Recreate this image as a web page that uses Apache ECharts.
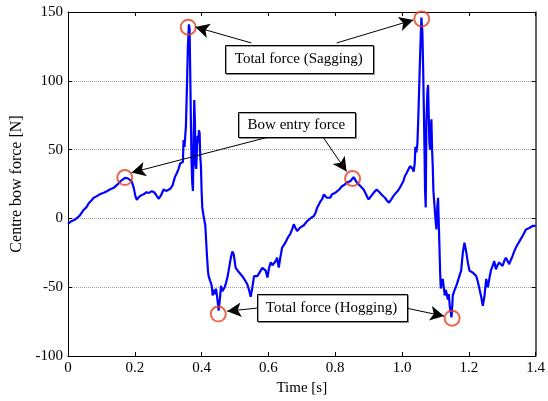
<!DOCTYPE html>
<html>
<head>
<meta charset="utf-8">
<script src="https://cdn.jsdelivr.net/npm/echarts@6/dist/echarts.min.js"></script>
<style>html,body{margin:0;padding:0;background:#fff}#c{width:548px;height:401px}</style>
</head>
<body>
<div id="c"></div>
<script>
// ---- data ----
var timeS = [0.000,0.010,0.020,0.028,0.035,0.040,0.048,0.055,0.062,0.070,0.077,0.085,0.095,0.107,0.115,0.125,0.137,0.145,0.152,0.157,0.165,0.172,0.180,0.188,0.192,0.197,0.202,0.206,0.212,0.220,0.226,0.235,0.243,0.251,0.258,0.264,0.271,0.278,0.286,0.295,0.306,0.313,0.320,0.326,0.331,0.336,0.341,0.344,0.346,0.349,0.351,0.353,0.356,0.359,0.362,0.364,0.366,0.368,0.370,0.372,0.374,0.376,0.378,0.380,0.382,0.384,0.386,0.388,0.390,0.392,0.394,0.396,0.398,0.400,0.402,0.405,0.408,0.411,0.413,0.416,0.419,0.421,0.425,0.428,0.431,0.433,0.436,0.440,0.443,0.447,0.451,0.455,0.458,0.462,0.465,0.469,0.473,0.478,0.483,0.488,0.492,0.496,0.502,0.508,0.515,0.522,0.530,0.537,0.542,0.547,0.552,0.557,0.562,0.567,0.572,0.577,0.582,0.587,0.592,0.597,0.602,0.607,0.612,0.617,0.622,0.626,0.631,0.636,0.641,0.646,0.651,0.656,0.661,0.666,0.671,0.676,0.681,0.686,0.691,0.696,0.701,0.706,0.711,0.716,0.721,0.728,0.736,0.741,0.746,0.751,0.756,0.761,0.766,0.770,0.775,0.780,0.785,0.790,0.795,0.800,0.805,0.812,0.820,0.828,0.835,0.840,0.845,0.850,0.855,0.860,0.865,0.870,0.875,0.880,0.885,0.890,0.895,0.900,0.905,0.910,0.915,0.920,0.924,0.929,0.934,0.940,0.949,0.955,0.961,0.967,0.974,0.980,0.989,0.995,1.004,1.009,1.014,1.019,1.024,1.029,1.032,1.035,1.038,1.040,1.043,1.046,1.049,1.052,1.055,1.058,1.061,1.063,1.065,1.067,1.069,1.071,1.073,1.076,1.078,1.080,1.082,1.084,1.086,1.088,1.090,1.092,1.094,1.096,1.098,1.100,1.103,1.106,1.108,1.110,1.112,1.114,1.116,1.119,1.122,1.125,1.128,1.131,1.134,1.137,1.140,1.143,1.146,1.148,1.150,1.152,1.156,1.160,1.164,1.167,1.172,1.177,1.182,1.187,1.192,1.197,1.202,1.207,1.212,1.217,1.222,1.227,1.232,1.237,1.242,1.247,1.252,1.257,1.262,1.266,1.271,1.276,1.281,1.286,1.291,1.296,1.301,1.306,1.311,1.316,1.321,1.326,1.331,1.336,1.341,1.346,1.351,1.358,1.366,1.371,1.376,1.381,1.386,1.391,1.396,1.400];
var forceN = [-4,-2,-1,0.5,2,3,6.5,8,11,13,15,16,17.5,18.6,19.5,21,22.2,24,25.5,27,28.5,29.5,29,27.5,26,22,16,13.5,15.5,17,17.4,19,18.5,19.8,19,17,14.3,16.5,21,20,21.5,24,30,33,36,40,39,41,57,52,60,67,95,125,141,138,105,70,40,26,20,55,86,70,38,36,50,60,55,64,62,45,38,20,8,3,2,-5,-6,-27,-38,-42,-45,-47,-50,-56,-52,-55,-51,-58,-67,-58,-49,-53,-54,-50,-47,-42,-35,-28,-24,-26,-36,-38,-40,-42,-45,-48,-52,-57,-50,-42,-43,-42,-40.6,-38,-36,-34.6,-38,-43,-36,-32,-34,-33,-31,-28.5,-35.7,-28,-21.2,-20,-17.6,-15,-12.8,-11,-8,-4.3,-7,-9.2,-8,-6.5,-5.6,-5,-4.3,-2,-0.7,0.5,1.7,4,7.8,9,12.5,14,17.4,16.5,15,16,15,17.4,18,18.6,19.8,21,23.4,24.5,26,26.5,27,28.5,30,28,26,25,23.5,22.2,21,18.6,16,13.8,15.5,17,18.6,20,21,20,18.6,17,15,13,11.4,13.5,16.2,18,20.5,23,27,31,33,35.5,38,39,36,34,40,52,48,54,75,100,125,146,135,112,85,55,20,8,70,92,97,75,55,50,62,72,50,38,20,13,13,0,-8,10,15,-3,-20,-38,-51,-47,-44,-50,-56,-52,-55,-59,-55,-64,-68,-72,-65,-56,-53,-52,-48,-46.6,-41.8,-38,-25,-17.6,-24,-32,-38,-38.5,-39.4,-40,-41.8,-46,-51.4,-57,-63.5,-56,-44,-50,-43,-38,-34.6,-31,-37,-34,-32,-33,-34.6,-31,-28.5,-31,-33.3,-30,-27.3,-24,-21.2,-19,-17.6,-14,-10.4,-8,-6.7,-7,-6,-5.5,-5.6,-5.5];

// highlighted points (red circles)
var markT = [0.170, 0.360, 0.450, 0.852, 1.059, 1.150];
var markF = [29.7, 139, -69.5, 29, 145, -72.5];

// tick values
var xTicks = [0, 0.2, 0.4, 0.6, 0.8, 1.0, 1.2, 1.4];
var yTicks = [-100, -50, 0, 50, 100, 150];

// annotations: label text, box centre (data units), arrow start/end (data units)
var noteText = ['Total force (Sagging)', 'Bow entry force', 'Total force (Hogging)'];
var noteCenterT = [0.691, 0.6836, 0.789];
var noteCenterF = [116, 68.5, -64.8];
var arrowFromT = [0.5489, 0.8043, 0.6047, 0.7626, 0.566, 1.0128];
var arrowFromF = [127.5, 127.5, 59.4, 59.4, -65.2, -65.2];
var arrowToT = [0.3813, 1.0336, 0.1906, 0.834, 0.4766, 1.126];
var arrowToF = [139.1, 144.2, 33.3, 34.1, -67.4, -71];

// ---- chart ----
var FONT = '"Liberation Serif", "Times New Roman", serif';
var chart = echarts.init(document.getElementById('c'), null, {renderer: 'canvas'});
var lineData = timeS.map(function (t, i) { return [t, forceN[i]]; });
var circData = markT.map(function (t, i) { return [t, markF[i]]; });
var arrows = arrowFromT.map(function (t, i) {
  return [{coord: [t, arrowFromF[i]]}, {coord: [arrowToT[i], arrowToF[i]]}];
});
var xFmt = function (v) {
  var r = Math.round(v * 10) / 10;
  return r === 0 ? '0' : r.toFixed(1);
};
var tickStyle = {show: true, inside: true, length: 4, lineStyle: {color: '#000', width: 1}};

chart.setOption({
  animation: false,
  backgroundColor: '#fff',
  grid: {left: 68, right: 10, top: 12, bottom: 44, containLabel: false},
  xAxis: [{
    type: 'value', min: xTicks[0], max: xTicks[xTicks.length - 1], interval: 0.2,
    name: 'Time [s]', nameLocation: 'middle', nameGap: 25,
    nameTextStyle: {fontFamily: FONT, fontSize: 15, color: '#000'},
    axisLine: {show: true, onZero: false, lineStyle: {color: '#000', width: 1}},
    axisTick: tickStyle,
    axisLabel: {fontFamily: FONT, fontSize: 15, color: '#000', margin: 5, formatter: xFmt},
    splitLine: {show: false}
  }, {
    type: 'value', position: 'top', min: xTicks[0], max: xTicks[xTicks.length - 1], interval: 0.2,
    axisLine: {show: true, onZero: false, lineStyle: {color: '#000', width: 1}},
    axisTick: tickStyle, axisLabel: {show: false}, splitLine: {show: false}
  }],
  yAxis: [{
    type: 'value', min: yTicks[0], max: yTicks[yTicks.length - 1], interval: 50,
    name: 'Centre bow force [N]', nameLocation: 'middle', nameGap: 43, nameRotate: 90,
    nameTextStyle: {fontFamily: FONT, fontSize: 16, color: '#000'},
    axisLine: {show: true, onZero: false, lineStyle: {color: '#000', width: 1}},
    axisTick: tickStyle,
    axisLabel: {fontFamily: FONT, fontSize: 15, color: '#000', margin: 5},
    splitLine: {show: true, lineStyle: {color: '#a0a0a0', width: 1, type: [1, 1]}}
  }, {
    type: 'value', position: 'right', min: yTicks[0], max: yTicks[yTicks.length - 1], interval: 50,
    axisLine: {show: true, onZero: false, lineStyle: {color: '#333', width: 1.5}},
    axisTick: tickStyle, axisLabel: {show: false}, splitLine: {show: false}
  }],
  series: [{
    type: 'line', data: lineData, showSymbol: false, symbol: 'none',
    lineStyle: {color: '#0000ff', width: 2.2}, z: 3,
    markLine: {
      silent: true, symbol: ['none', 'arrow'], symbolSize: [11, 14],
      lineStyle: {color: '#000', width: 1, type: 'solid'},
      label: {show: false}, data: arrows, z: 6
    }
  }, {
    type: 'scatter', data: circData, symbol: 'circle', symbolSize: 15,
    itemStyle: {color: 'rgba(0,0,0,0)', borderColor: '#e2401c', borderWidth: 2}, z: 5
  }]
});

// text boxes in data coordinates
var boxW = [148, 117, 150], boxH = [28, 25, 27];
var gfx = [];
noteText.forEach(function (txt, i) {
  var p = chart.convertToPixel({xAxisIndex: 0, yAxisIndex: 0}, [noteCenterT[i], noteCenterF[i]]);
  gfx.push({
    type: 'rect', z: 100,
    shape: {x: Math.round(p[0] - boxW[i] / 2) + 0.5, y: Math.round(p[1] - boxH[i] / 2) + 0.5, width: boxW[i], height: boxH[i]},
    style: {fill: '#fff', stroke: '#000', lineWidth: 1, shadowColor: 'rgba(0,0,0,0.35)', shadowOffsetX: 1, shadowOffsetY: 1, shadowBlur: 0}
  });
  gfx.push({
    type: 'text', z: 101, x: p[0], y: p[1] + 0.5,
    style: {text: txt, fontFamily: FONT, fontSize: 15, fill: '#000', align: 'center', verticalAlign: 'middle'}
  });
});
chart.setOption({graphic: gfx});
</script>
</body>
</html>
